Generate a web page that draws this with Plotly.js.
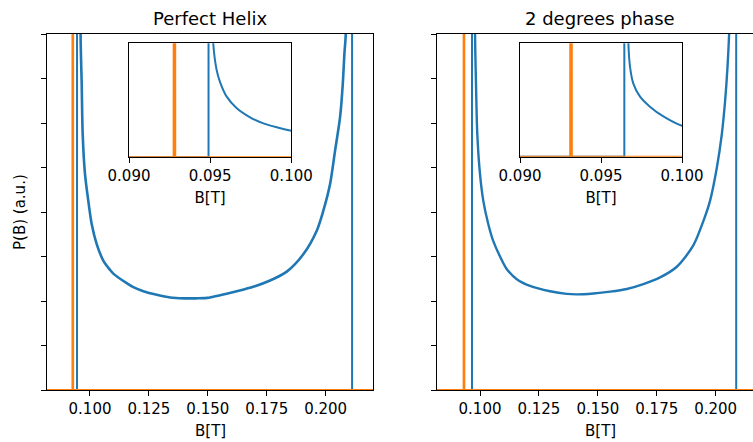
<!DOCTYPE html>
<html>
<head>
<meta charset="utf-8">
<script src="https://cdn.plot.ly/plotly-3.0.1.min.js"></script>
<style>html,body{margin:0;padding:0;background:#fff;overflow:hidden}#plot{width:753px;height:442px}</style>
</head>
<body>
<div id="plot"></div>
<script>
// ---- Data ----
var titles = ["Perfect Helix", "2 degrees phase"];
var xLabel = "B[T]";
var yLabel = "P(B) (a.u.)";
var mainTickVals = [0.100, 0.125, 0.150, 0.175, 0.200];
var mainTickText = ["0.100", "0.125", "0.150", "0.175", "0.200"];
var insetTickVals = [0.090, 0.095, 0.100];
var insetTickText = ["0.090", "0.095", "0.100"];
var yTickVals = [0, 1, 2, 3, 4, 5, 6, 7, 8];

// Perfect Helix, main panel: smooth P(B) curve (blue)
var helixCurveB = [0.0955, 0.0960, 0.09648, 0.0969, 0.09788, 0.09928, 0.10072, 0.10284, 0.10564, 0.10849, 0.11000, 0.11558, 0.11838, 0.12262, 0.12831, 0.13400, 0.14000, 0.14500, 0.14966, 0.15517, 0.16226, 0.16930, 0.17639, 0.18350, 0.19050, 0.19620, 0.19900, 0.20186, 0.20398, 0.20610, 0.20725, 0.20793, 0.20852, 0.2095];
var helixCurveP = [30, 8.0, 6.88, 5.75, 4.85, 4.25, 3.73, 3.28, 2.91, 2.70, 2.61, 2.40, 2.31, 2.22, 2.14, 2.08, 2.06, 2.06, 2.07, 2.13, 2.22, 2.32, 2.46, 2.66, 3.05, 3.58, 4.03, 4.63, 5.38, 6.13, 6.88, 7.55, 8.0, 12];
// Perfect Helix, main panel: edge spikes and zero baseline (blue)
var helixEdgeB = [0.0800, 0.0945, 0.0946, null, 0.2111, 0.2112, 0.2250];
var helixEdgeP = [0, 0, 200, null, 200, 0, 0];
// Perfect Helix, main panel: orange spike
var helixOrangeB = [0.0800, 0.0926, 0.0927, 0.0928, 0.2250];
var helixOrangeP = [0, 0, 200, 0, 0];

// 2 degrees phase, main panel
var phaseCurveB = [0.0975, 0.0979, 0.0983, 0.09885, 0.1000, 0.1014, 0.1035, 0.1056, 0.1099, 0.1113, 0.1156, 0.1212, 0.1297, 0.1368, 0.1410, 0.1481, 0.1552, 0.1623, 0.1693, 0.1764, 0.1835, 0.1905, 0.1948, 0.1976, 0.2005, 0.2026, 0.2040, 0.2050, 0.2057, 0.2065];
var phaseCurveP = [30, 8.0, 6.88, 5.75, 4.85, 4.25, 3.73, 3.35, 2.85, 2.72, 2.49, 2.34, 2.22, 2.16, 2.15, 2.17, 2.21, 2.27, 2.38, 2.53, 2.77, 3.25, 3.80, 4.25, 5.0, 5.75, 6.5, 7.25, 8.0, 9.5];
var phaseEdgeB = [0.0800, 0.0966, 0.0967, null, 0.2086, 0.2087, 0.2250];
var phaseEdgeP = [0, 0, 200, null, 200, 0, 0];
var phaseOrangeB = [0.0800, 0.0931, 0.0932, 0.0933, 0.2250];
var phaseOrangeP = [0, 0, 200, 0, 0];

// Insets (zoom 0.090 - 0.100)
var helixInsetCurveB = [0.09505, 0.09519, 0.0954, 0.09561, 0.09602, 0.09664, 0.09746, 0.09828, 0.0991, 0.1000, 0.1010];
var helixInsetCurveP = [20, 10, 7.66, 6.60, 5.32, 4.30, 3.51, 2.98, 2.63, 2.33, 2.1];
var helixInsetEdgeB = [0.0880, 0.0949, 0.0949];
var helixInsetEdgeP = [0, 0, 40];
var helixInsetOrangeB = [0.0880, 0.09275, 0.09276, 0.09284, 0.09285, 0.1010];
var helixInsetOrangeP = [0, 0, 40, 40, 0, 0];

var phaseInsetCurveB = [0.09662, 0.09669, 0.09679, 0.09699, 0.09741, 0.09802, 0.09885, 0.1000, 0.1010];
var phaseInsetCurveP = [20, 10, 7.94, 6.47, 5.29, 4.41, 3.55, 2.73, 2.5];
var phaseInsetEdgeB = [0.0880, 0.09644, 0.09644];
var phaseInsetEdgeP = [0, 0, 40];
var phaseInsetOrangeB = [0.0880, 0.09310, 0.09311, 0.09319, 0.09320, 0.1010];
var phaseInsetOrangeP = [0, 0, 40, 40, 0, 0];

// ---- Styling ----
var BLUE = '#1f77b4', ORANGE = '#ff7f0e';
var FONT = 'DejaVu Sans, sans-serif';

function line(x, y, color, xa, ya, w, smooth) {
  var ln = {color: color, width: w};
  if (smooth) { ln.shape = 'spline'; ln.smoothing = 0.8; }
  return {x: x, y: y, type: 'scatter', mode: 'lines', xaxis: xa, yaxis: ya,
          line: ln, connectgaps: false, hoverinfo: 'skip', showlegend: false};
}

var traces = [
  line(helixCurveB, helixCurveP, BLUE, 'x', 'y', 2.6, true),
  line(helixEdgeB, helixEdgeP, BLUE, 'x', 'y', 2, false),
  line(helixOrangeB, helixOrangeP, ORANGE, 'x', 'y', 2.2, false),
  line(phaseCurveB, phaseCurveP, BLUE, 'x2', 'y2', 2.4, true),
  line(phaseEdgeB, phaseEdgeP, BLUE, 'x2', 'y2', 2, false),
  line(phaseOrangeB, phaseOrangeP, ORANGE, 'x2', 'y2', 2.2, false),
  line(helixInsetCurveB, helixInsetCurveP, BLUE, 'x3', 'y3', 2, true),
  line(helixInsetEdgeB, helixInsetEdgeP, BLUE, 'x3', 'y3', 2, false),
  line(helixInsetOrangeB, helixInsetOrangeP, ORANGE, 'x3', 'y3', 2, false),
  line(phaseInsetCurveB, phaseInsetCurveP, BLUE, 'x4', 'y4', 2, true),
  line(phaseInsetEdgeB, phaseInsetEdgeP, BLUE, 'x4', 'y4', 2, false),
  line(phaseInsetOrangeB, phaseInsetOrangeP, ORANGE, 'x4', 'y4', 2, false)
];

var tickFont = {family: FONT, size: 15, color: '#000'};

function mainX(domain, range, anchor, mirror) {
  return {domain: domain, range: range, anchor: anchor, showgrid: false, zeroline: false,
          showline: true, linecolor: '#000', linewidth: 1, mirror: mirror,
          ticks: 'outside', ticklen: 5, tickwidth: 1, tickcolor: '#000',
          tickmode: 'array', tickvals: mainTickVals, ticktext: mainTickText, tickfont: tickFont};
}
function mainY(anchor, mirror) {
  return {domain: [0, 1], range: [0, 8], anchor: anchor, showgrid: false, zeroline: false,
          showline: true, linecolor: '#000', linewidth: 1, mirror: mirror,
          ticks: 'outside', ticklen: 5, tickwidth: 1, tickcolor: '#000',
          tickmode: 'array', tickvals: yTickVals, showticklabels: false};
}
function insetX(domain, anchor) {
  return {domain: domain, range: [0.090, 0.100], anchor: anchor, showgrid: false, zeroline: false,
          showline: true, linecolor: '#000', linewidth: 1, mirror: true,
          ticks: 'outside', ticklen: 5, tickwidth: 1, tickcolor: '#000',
          tickmode: 'array', tickvals: insetTickVals, ticktext: insetTickText, tickfont: tickFont,
          title: {text: xLabel, font: tickFont, standoff: 8}};
}
function insetY(domain, anchor) {
  return {domain: domain, range: [0, 10], anchor: anchor, showgrid: false, zeroline: false,
          showline: true, linecolor: '#000', linewidth: 1, mirror: true,
          ticks: '', showticklabels: false};
}

var W = 753, H = 442, ML = 47, MR = 0, MT = 34, MB = 52;
var PW = W - ML - MR, PH = H - MT - MB;
function px(x) { return (x - ML) / PW; }
function py(y) { return (H - MB - y) / PH; }

var layout = {
  width: W, height: H,
  margin: {l: ML, r: MR, t: MT, b: MB, pad: 0},
  paper_bgcolor: '#fff', plot_bgcolor: '#fff',
  showlegend: false,
  font: {family: FONT, color: '#000'},
  xaxis: mainX([0, px(373)], [0.08176, 0.22007], 'y', true),
  yaxis: mainY('x', true),
  xaxis2: mainX([px(437.3), 1], [0.08188, 0.21583], 'y2', true),
  yaxis2: mainY('x2', false),
  xaxis3: insetX([px(129), px(291.3)], 'y3'),
  yaxis3: insetY([py(157.3), py(43.3)], 'x3'),
  xaxis4: insetX([px(520), px(682)], 'y4'),
  yaxis4: insetY([py(156.7), py(43.3)], 'x4'),
  annotations: [
    {text: titles[0], xref: 'paper', yref: 'paper', x: px(210), y: 1, xanchor: 'center', yanchor: 'bottom', yshift: 3, showarrow: false, font: {family: FONT, size: 18, color: '#000'}},
    {text: titles[1], xref: 'paper', yref: 'paper', x: px(600), y: 1, xanchor: 'center', yanchor: 'bottom', yshift: 3, showarrow: false, font: {family: FONT, size: 18, color: '#000'}},
    {text: xLabel, xref: 'paper', yref: 'paper', x: px(210), y: py(420), xanchor: 'center', yanchor: 'top', showarrow: false, font: tickFont},
    {text: xLabel, xref: 'paper', yref: 'paper', x: px(600), y: py(420), xanchor: 'center', yanchor: 'top', showarrow: false, font: tickFont},
    {text: yLabel, xref: 'paper', yref: 'paper', x: px(20), y: py(212), xanchor: 'center', yanchor: 'middle', textangle: -90, showarrow: false, font: tickFont}
  ]
};

Plotly.newPlot('plot', traces, layout, {staticPlot: true, displayModeBar: false});
</script>
</body>
</html>
